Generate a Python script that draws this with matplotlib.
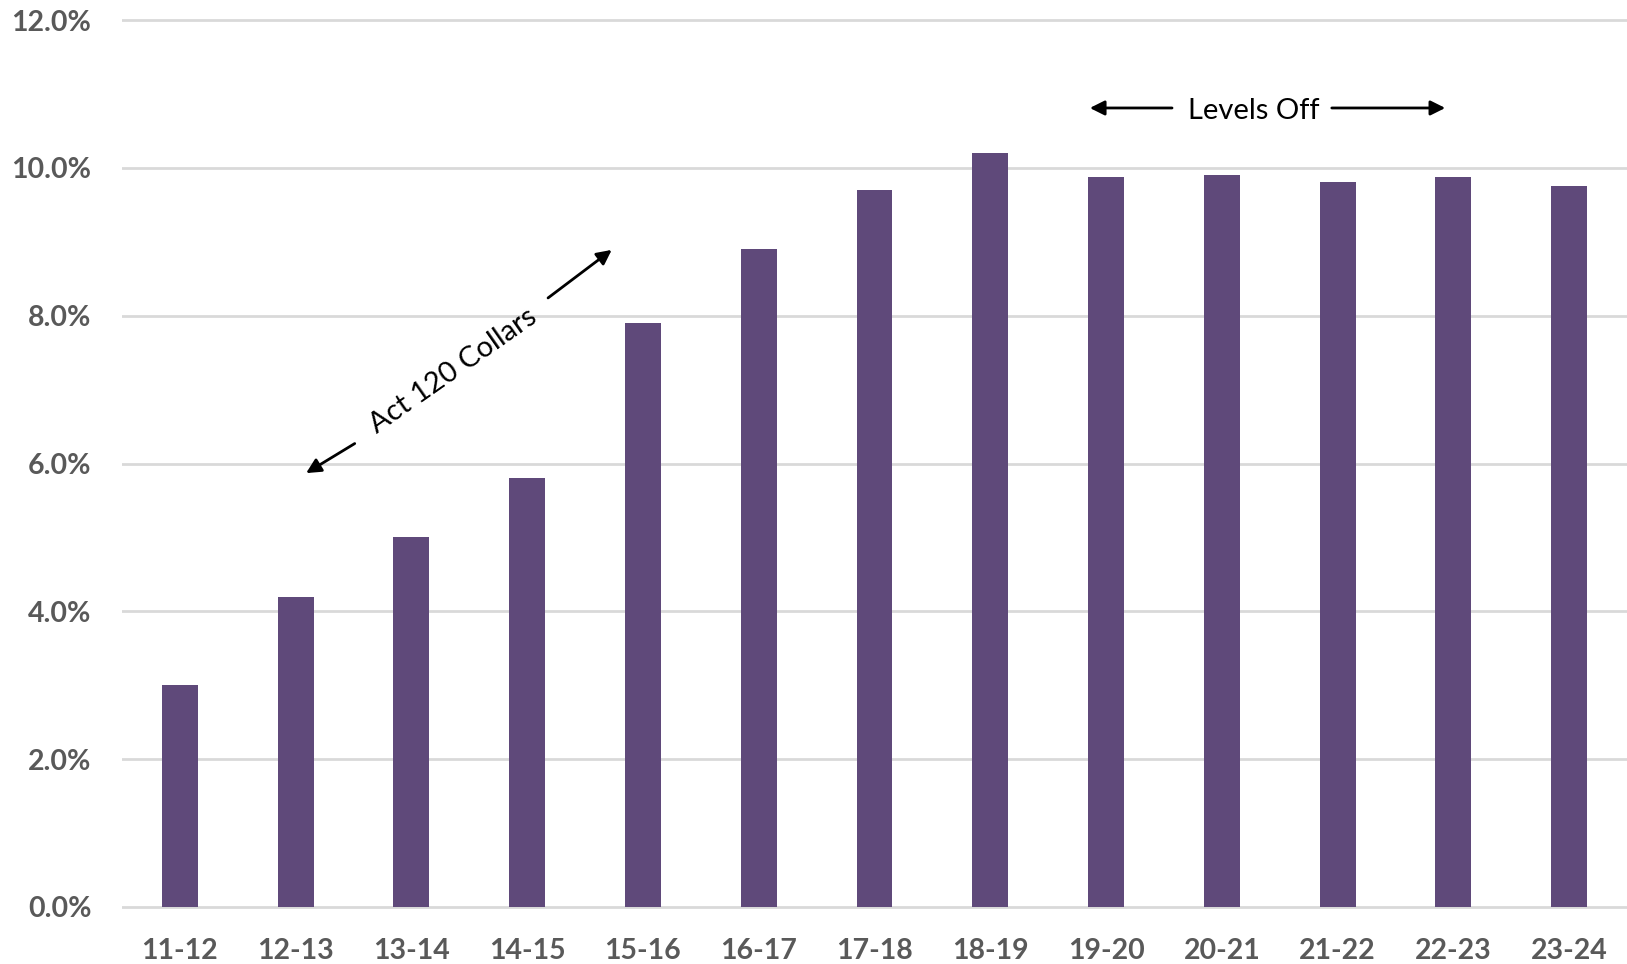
import matplotlib
matplotlib.use("Agg")
import matplotlib.pyplot as plt
from matplotlib.ticker import FuncFormatter

# Fiscal years and share (%) per year
years = ["11-12", "12-13", "13-14", "14-15", "15-16", "16-17", "17-18",
         "18-19", "19-20", "20-21", "21-22", "22-23", "23-24"]
share = [3.0, 4.2, 5.0, 5.8, 7.9, 8.9, 9.7, 10.2, 9.87, 9.9, 9.81, 9.87, 9.76]
y_ticks = [0, 2, 4, 6, 8, 10, 12]

BAR_COLOR = "#5F497A"
GRID_COLOR = "#D9D9D9"
LABEL_COLOR = "#595959"

plt.rcParams["font.family"] = ["Lato", "DejaVu Sans"]

fig = plt.figure(figsize=(16.27, 9.64), dpi=100)
ax = fig.add_axes([0.075, 0.0553, 0.925, 0.9316])

x = range(len(years))
ax.bar(x, share, width=0.31, color=BAR_COLOR, zorder=3)

ax.set_xlim(-0.5, len(years) - 0.5)
ax.set_ylim(-0.05, 12.1)
ax.set_yticks(y_ticks)
ax.yaxis.set_major_formatter(FuncFormatter(lambda v, _: f"{v:.1f}%"))
ax.set_xticks(list(x))
ax.set_xticklabels(years)

ax.grid(axis="y", color=GRID_COLOR, linewidth=2, zorder=0)
for s in ax.spines.values():
    s.set_visible(False)
ax.tick_params(axis="both", length=0, labelsize=20.5, labelcolor=LABEL_COLOR)
ax.tick_params(axis="y", pad=22)
ax.tick_params(axis="x", pad=20)
for lbl in ax.get_xticklabels() + ax.get_yticklabels():
    lbl.set_fontweight("bold")

arrow = dict(arrowstyle="-|>", mutation_scale=22, lw=2, color="black",
             shrinkA=0, shrinkB=0)

# "Levels Off" annotation
ax.text(9.28, 10.77, "Levels Off", fontsize=21, ha="center", va="center",
        color="black")
ax.annotate("", xy=(7.86, 10.81), xytext=(8.57, 10.81), arrowprops=arrow)
ax.annotate("", xy=(10.93, 10.81), xytext=(9.95, 10.81), arrowprops=arrow)

# "Act 120 Collars" annotation
ax.text(2.36, 7.25, "Act 120 Collars", fontsize=21, rotation=35,
        ha="center", va="center", color="black", rotation_mode="anchor")
ax.annotate("", xy=(3.73, 8.89), xytext=(3.18, 8.24), arrowprops=arrow)
ax.annotate("", xy=(1.09, 5.87), xytext=(1.51, 6.27), arrowprops=arrow)

fig.savefig("out.png", dpi=100, facecolor="white")
